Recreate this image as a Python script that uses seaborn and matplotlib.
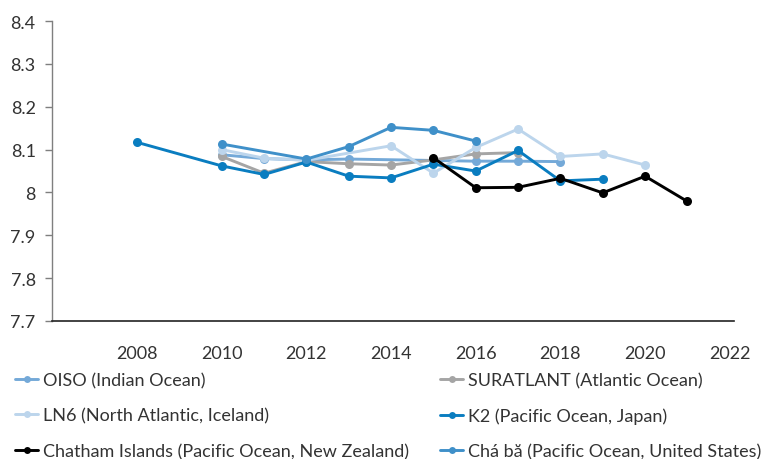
import matplotlib
matplotlib.use("Agg")
import matplotlib.pyplot as plt
import matplotlib.ticker as mticker
import pandas as pd
import seaborn as sns

# Surface-ocean pH time series at six observing sites
oiso_years = [2010, 2011, 2012, 2013, 2016, 2017, 2018]
oiso_ph = [8.088, 8.079, 8.076, 8.078, 8.073, 8.073, 8.072]

suratlant_years = [2010, 2011, 2012, 2013, 2014, 2015, 2016, 2017]
suratlant_ph = [8.084, 8.045, 8.072, 8.067, 8.064, 8.076, 8.090, 8.093]

ln6_years = [2010, 2011, 2012, 2014, 2015, 2016, 2017, 2018, 2019, 2020]
ln6_ph = [8.100, 8.080, 8.075, 8.109, 8.045, 8.105, 8.148, 8.084, 8.090, 8.064]

k2_years = [2008, 2010, 2011, 2012, 2013, 2014, 2015, 2016, 2017, 2018, 2019]
k2_ph = [8.117, 8.062, 8.042, 8.071, 8.038, 8.034, 8.066, 8.050, 8.098, 8.027, 8.031]

chatham_years = [2015, 2016, 2017, 2018, 2019, 2020, 2021]
chatham_ph = [8.081, 8.011, 8.012, 8.033, 7.999, 8.038, 7.979]

chaba_years = [2010, 2012, 2013, 2014, 2015, 2016]
chaba_ph = [8.113, 8.078, 8.107, 8.152, 8.145, 8.120]

site_names = [
    "OISO (Indian Ocean)",
    "SURATLANT (Atlantic Ocean)",
    "LN6 (North Atlantic, Iceland)",
    "K2 (Pacific Ocean, Japan)",
    "Chatham Islands (Pacific Ocean, New Zealand)",
    "Chá bă (Pacific Ocean, United States)",
]
site_colors = ["#74a9d8", "#a5a5a5", "#bcd5ec", "#0a7dc0", "#000000", "#3f90c9"]

y_ticks = [7.7, 7.8, 7.9, 8.0, 8.1, 8.2, 8.3, 8.4]
x_ticks = [2008, 2010, 2012, 2014, 2016, 2018, 2020, 2022]

series = [
    (oiso_years, oiso_ph),
    (suratlant_years, suratlant_ph),
    (ln6_years, ln6_ph),
    (k2_years, k2_ph),
    (chatham_years, chatham_ph),
    (chaba_years, chaba_ph),
]
frames = []
for name, (yrs, vals) in zip(site_names, series):
    frames.append(pd.DataFrame({"year": yrs, "pH": vals, "site": name}))
df = pd.concat(frames, ignore_index=True)

sns.set_theme(style="white")
plt.rcParams["font.family"] = ["Lato", "DejaVu Sans"]

fig = plt.figure(figsize=(7.74, 4.60), dpi=100)
ax = fig.add_axes([0.0677, 0.300, 0.8806, 0.652])

sns.lineplot(
    data=df, x="year", y="pH", hue="site", hue_order=site_names,
    palette=dict(zip(site_names, site_colors)), marker="o",
    markersize=6.5, markeredgewidth=0, linewidth=2.1, ax=ax,
    estimator=None, sort=True,
)

ax.set_xlim(2006, 2022.1)
ax.set_ylim(7.7, 8.4)
ax.set_xticks(x_ticks)
ax.set_yticks(y_ticks)
ax.yaxis.set_major_formatter(mticker.FuncFormatter(lambda v, p: f"{v:g}"))
ax.set_xlabel("")
ax.set_ylabel("")

for side in ["top", "right"]:
    ax.spines[side].set_visible(False)
ax.spines["left"].set_color("#7f7f7f")
ax.spines["left"].set_linewidth(1.0)
ax.spines["bottom"].set_color("#222222")
ax.spines["bottom"].set_linewidth(1.2)

ax.tick_params(axis="y", which="major", left=True, length=5, width=1.0,
               color="#7f7f7f", pad=7, labelsize=13, labelcolor="#333333")
ax.tick_params(axis="x", which="major", bottom=False, length=0, pad=17,
               labelsize=13, labelcolor="#333333")

handles, labels = ax.get_legend_handles_labels()
ax.get_legend().remove()
hmap = dict(zip(labels, handles))

left_col = [site_names[0], site_names[2], site_names[4]]
right_col = [site_names[1], site_names[3], site_names[5]]

common = dict(frameon=False, fontsize=13, handlelength=1.3, handletextpad=0.25,
              labelspacing=1.08, borderaxespad=0, borderpad=0,
              labelcolor="#333333", loc="upper left")
leg1 = fig.legend([hmap[n] for n in left_col], left_col,
                  bbox_to_anchor=(15 / 774, 1 - 373 / 460), **common)
leg2 = fig.legend([hmap[n] for n in right_col], right_col,
                  bbox_to_anchor=(440 / 774, 1 - 373 / 460), **common)
for leg in (leg1, leg2):
    for h in leg.legend_handles:
        h.set_markersize(5)

fig.savefig("out.png", dpi=100)
